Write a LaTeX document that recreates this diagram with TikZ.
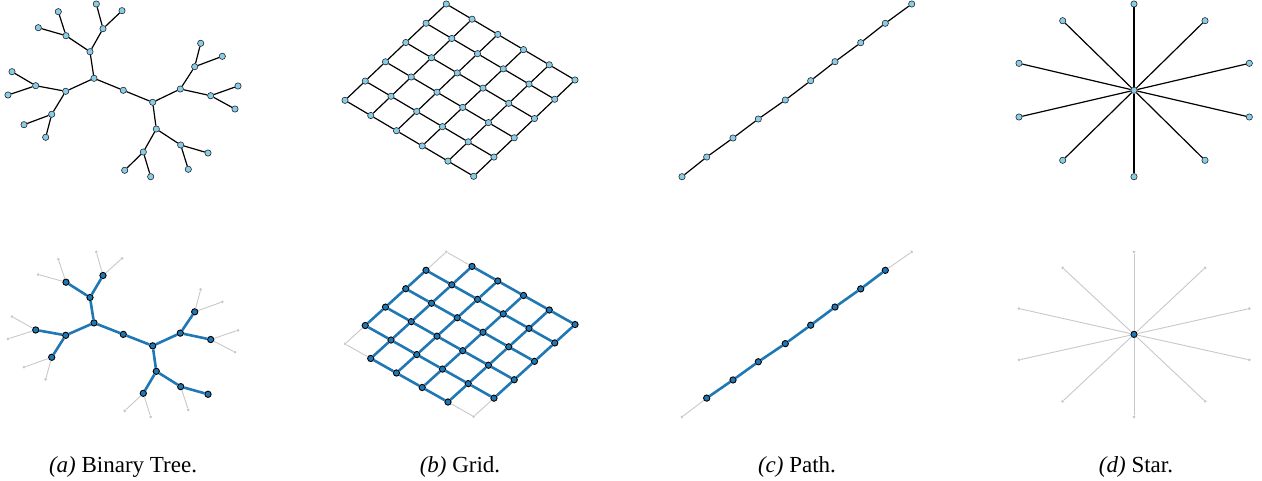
\documentclass[tikz,border=0pt]{standalone}
\usepackage{fontspec}
\setmainfont{Liberation Serif}
\definecolor{nodeblue}{RGB}{135,206,235}
\definecolor{hlblue}{RGB}{31,119,180}
\definecolor{fadegray}{RGB}{200,200,200}
\tikzset{
  vtx/.style={circle,fill=nodeblue,draw=black!85,line width=0.6pt,inner sep=0pt,minimum size=6.3pt},
  bvtx/.style={circle,fill=hlblue,draw=black,line width=0.9pt,inner sep=0pt,minimum size=6.3pt},
  gvtx/.style={circle,fill=fadegray,draw=none,inner sep=0pt,minimum size=3pt},
  edge/.style={draw=black,line width=1.2pt},
  bedge/.style={draw=hlblue,line width=2.6pt},
  gedge/.style={draw=fadegray,line width=0.9pt},
  captxt/.style={anchor=base,font=\fontsize{23}{27}\selectfont},
  lowerrow/.style={shift={(0,251.9)},yscale=0.9555,shift={(0,-4)}}
}
\def\treeinner{r/123.3/90.3, a/94/78.3, c/152.7/102.3, aa/90/51.7, ab/65.7/91.3, ca/180.3/89, cb/156.3/129, aaa/66/35.7, aab/103/28.7, aba/35.7/85.7, abb/51.7/114.3, caa/194.7/66.7, cab/210.7/95.7, cba/143.3/152, cbb/180.7/145}
\def\treeleaves{aaa1/38.3/27.7, aaa2/58.3/11.7, aab1/96.3/4, aab2/122/10.7, aba1/12/71.7, aba2/8/95, abb1/24/124.7, abb2/45.7/137.3, caa1/200.7/43.3, caa2/222.3/56.3, cab1/238/86, cab2/235/109, cba1/124.7/170.3, cba2/150.7/176.7, cbb2/188.3/169.3}
\def\treeinneredges{r/a, r/c, a/aa, a/ab, c/ca, c/cb, aa/aaa, aa/aab, ab/aba, ab/abb, ca/caa, ca/cab, cb/cba, cb/cbb}
\def\treeleafedges{aaa/aaa1, aaa/aaa2, aab/aab1, aab/aab2, aba/aba1, aba/aba2, abb/abb1, abb/abb2, caa/caa1, caa/caa2, cab/cab1, cab/cab2, cba/cba1, cba/cba2, cbb/cbb2}
\def\pathnodes{0/682/176.7, 1/706.7/157, 2/733/138, 3/758.3/119, 4/785.3/100, 5/810.7/80.7, 6/835/61.7, 7/860.7/42.7, 8/885.3/23.3, 9/911.7/4}
\def\starleaves{1/1134/4, 2/1205/20.7, 3/1249.3/63.3, 4/1249.3/117, 5/1205/160.3, 6/1134/176.7, 7/1062.7/160.3, 8/1019/117, 9/1019/63.3, 10/1062.7/20.7}
\begin{document}
\begin{tikzpicture}[x=1pt,y=-1pt]
\useasboundingbox (0,0) rectangle (1262,480);
% ================= TOP ROW =================
% tree
\foreach \n/\x/\y in \treeinner {\node[vtx] (t\n) at (\x,\y) {};}
\foreach \n/\x/\y in \treeleaves {\node[vtx] (t\n) at (\x,\y) {};}
\node[vtx] (tcbb1) at (208,153) {};
\foreach \u/\v in \treeinneredges {\draw[edge] (t\u) -- (t\v);}
\foreach \u/\v in \treeleafedges {\draw[edge] (t\u) -- (t\v);}
\draw[edge] (tcbb) -- (tcbb1);
% grid
\foreach \i in {0,...,5}{\foreach \j in {0,...,5}{
  \node[vtx] (g-\i-\j) at ({446.3+25.74*\i-20.26*\j},{4+15.2*\i+19.26*\j}) {};}}
\foreach \i in {0,...,4}{\foreach \j in {0,...,5}{
  \pgfmathtruncatemacro{\k}{\i+1}
  \draw[edge] (g-\i-\j) -- (g-\k-\j);
  \draw[edge] (g-\j-\i) -- (g-\j-\k);}}
% path
\foreach \n/\x/\y in \pathnodes {\node[vtx] (p\n) at (\x,\y) {};}
\foreach \n in {0,...,8}{\pgfmathtruncatemacro{\k}{\n+1}\draw[edge] (p\n) -- (p\k);}
% star
\node[vtx] (s0) at (1134,90.3) {};
\foreach \n/\x/\y in \starleaves {\node[vtx] (s\n) at (\x,\y) {};}
\foreach \n in {1,...,10}{\draw[edge] (s0) -- (s\n);}
% ================= BOTTOM ROW =================
\begin{scope}[lowerrow]
% tree
\foreach \n/\x/\y in \treeinner {\node[bvtx] (u\n) at (\x,\y) {};}
\foreach \n/\x/\y in \treeleaves {\node[gvtx] (u\n) at (\x,\y) {};}
\node[bvtx] (ucbb1) at (208,153) {};
\foreach \u/\v in \treeleafedges {\draw[gedge] (u\u) -- (u\v);}
\foreach \u/\v in \treeinneredges {\draw[bedge] (u\u) -- (u\v);}
\draw[bedge] (ucbb) -- (ucbb1);
% grid
\foreach \i in {0,...,5}{\foreach \j in {0,...,5}{
  \pgfmathtruncatemacro{\gr}{((\i==0)&&(\j==0))||((\i==0)&&(\j==5))||((\i==5)&&(\j==5))}
  \ifnum\gr=1 \def\st{gvtx}\else\def\st{bvtx}\fi
  \node[\st] (h-\i-\j) at ({446.3+25.74*\i-20.26*\j},{4+15.2*\i+19.26*\j}) {};}}
\foreach \i in {0,...,4}{\foreach \j in {0,...,5}{
  \pgfmathtruncatemacro{\k}{\i+1}
  \pgfmathtruncatemacro{\ga}{((\i==0)&&(\j==0))||((\i==0)&&(\j==5))||((\k==5)&&(\j==5))}
  \ifnum\ga=1 \def\st{gedge}\else\def\st{bedge}\fi
  \draw[\st] (h-\i-\j) -- (h-\k-\j);
  \pgfmathtruncatemacro{\gb}{((\j==0)&&(\i==0))||((\j==0)&&(\k==5))||((\j==5)&&(\k==5))}
  \ifnum\gb=1 \def\st{gedge}\else\def\st{bedge}\fi
  \draw[\st] (h-\j-\i) -- (h-\j-\k);}}
% path
\foreach \n/\x/\y in \pathnodes {
  \pgfmathtruncatemacro{\gr}{(\n==0)||(\n==9)}
  \ifnum\gr=1 \def\st{gvtx}\else\def\st{bvtx}\fi
  \node[\st] (q\n) at (\x,\y) {};}
\draw[gedge] (q0) -- (q1);
\draw[gedge] (q8) -- (q9);
\foreach \n in {1,...,7}{\pgfmathtruncatemacro{\k}{\n+1}\draw[bedge] (q\n) -- (q\k);}
% star
\node[bvtx] (v0) at (1134,90.3) {};
\foreach \n/\x/\y in \starleaves {\node[gvtx] (v\n) at (\x,\y) {};}
\foreach \n in {1,...,10}{\draw[gedge] (v0) -- (v\n);}
\end{scope}
% ================= CAPTIONS =================
\node[captxt] (capa) at (123,472) {\textit{(a)} Binary Tree.};
\node[captxt] (capb) at (460,472) {\textit{(b)} Grid.};
\node[captxt] (capc) at (797,472) {\textit{(c)} Path.};
\node[captxt] (capd) at (1136,472) {\textit{(d)} Star.};
\end{tikzpicture}
\end{document}
